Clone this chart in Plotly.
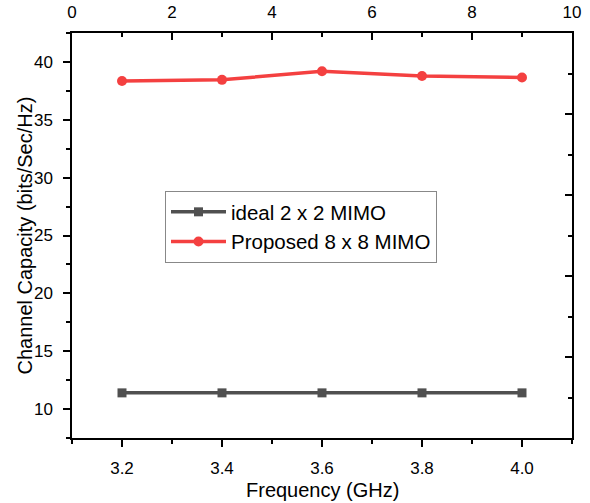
import plotly.graph_objects as go

freq = [3.2, 3.4, 3.6, 3.8, 4.0]
ideal_2x2 = [11.4, 11.4, 11.4, 11.4, 11.4]
proposed_8x8 = [38.35, 38.45, 39.2, 38.78, 38.65]
series_names = ["ideal 2 x 2 MIMO", "Proposed 8 x 8 MIMO"]
x_title = "Frequency (GHz)"
y_title = "Channel Capacity (bits/Sec/Hz)"

FONT = "Liberation Sans, Arial, sans-serif"
W, H = 590, 503
L, R, T, B = 72, 18, 33, 65
PW, PH = W - L - R, H - T - B

fig = go.Figure()
fig.add_trace(go.Scatter(
    x=freq, y=ideal_2x2, name=series_names[0], mode="lines+markers",
    line=dict(color="#505050", width=3.5),
    marker=dict(symbol="square", size=9, color="#505050"),
))
fig.add_trace(go.Scatter(
    x=freq, y=proposed_8x8, name=series_names[1], mode="lines+markers",
    line=dict(color="#F44040", width=3.5),
    marker=dict(symbol="circle", size=10, color="#F44040"),
))
# carrier trace for the secondary (top/right) axes
fig.add_trace(go.Scatter(x=[], y=[], xaxis="x2", yaxis="y2", showlegend=False,
                         hoverinfo="skip"))

axis_common = dict(showline=True, linecolor="black", linewidth=1.5, showgrid=False,
                   zeroline=False, tickcolor="black", tickwidth=1.5, automargin=False,
                   tickfont=dict(family=FONT, size=17, color="black"))

fig.update_layout(
    width=W, height=H, autosize=False,
    margin=dict(l=L, r=R, t=T, b=B),
    paper_bgcolor="white", plot_bgcolor="white",
    font=dict(family=FONT, color="black"),
    xaxis=dict(range=[3.1, 4.1], tickmode="linear", tick0=3.2, dtick=0.2,
               tickformat=".1f", ticks="outside", ticklen=7, ticklabelstandoff=7,
               minor=dict(ticks="outside", ticklen=4, dtick=0.1, tick0=3.1,
                          tickcolor="black", tickwidth=1.5),
               **axis_common),
    yaxis=dict(range=[7.5, 42.5], tickmode="linear", tick0=10, dtick=5,
               ticks="outside", ticklen=7, ticklabelstandoff=7,
               minor=dict(ticks="outside", ticklen=4, dtick=2.5, tick0=7.5,
                          tickcolor="black", tickwidth=1.5),
               **axis_common),
    xaxis2=dict(overlaying="x", side="top", range=[0, 10], tickmode="linear",
                tick0=0, dtick=2, ticks="inside", ticklen=7, ticklabelstandoff=6,
                minor=dict(ticks="inside", ticklen=4, dtick=1,
                           tickcolor="black", tickwidth=1.5),
                **axis_common),
    yaxis2=dict(overlaying="y", side="right", range=[0, 10], tickmode="linear",
                tick0=0, dtick=2, ticks="inside", ticklen=7, showticklabels=False,
                minor=dict(ticks="inside", ticklen=4, dtick=1,
                           tickcolor="black", tickwidth=1.5),
                **axis_common),
    legend=dict(x=(165 - L) / PW, y=(H - B - 191) / PH, xanchor="left", yanchor="top",
                bgcolor="white", bordercolor="#888888", borderwidth=1,
                font=dict(family=FONT, size=20.5, color="black"),
                tracegroupgap=0, itemwidth=55),
    annotations=[
        dict(text=x_title, xref="paper", yref="paper", x=0.5,
             y=(H - B - 490) / PH, xanchor="center", yanchor="middle",
             showarrow=False, font=dict(family=FONT, size=20, color="black")),
        dict(text=y_title, xref="paper", yref="paper", x=(24 - L) / PW,
             y=0.5, xanchor="center", yanchor="middle", textangle=-90,
             showarrow=False, font=dict(family=FONT, size=20, color="black")),
    ],
)

fig.write_html("out.html", config={"displayModeBar": False})
# remove the default 8px body margin so the figure sits at the page origin
with open("out.html", encoding="utf-8") as f:
    html = f.read()
html = html.replace("<body>", '<body style="margin:0;overflow:hidden">', 1)
with open("out.html", "w", encoding="utf-8") as f:
    f.write(html)
